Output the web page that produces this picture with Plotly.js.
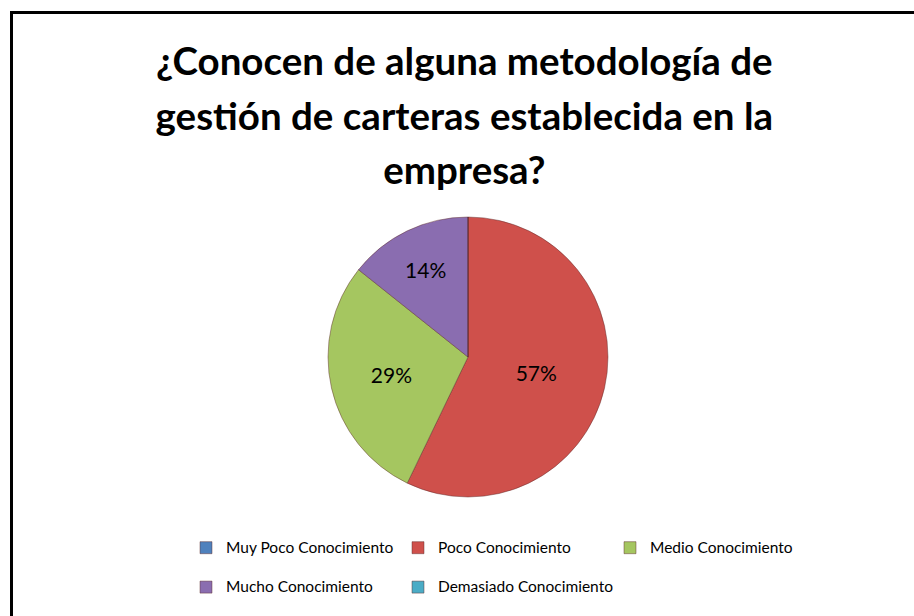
<!DOCTYPE html>
<html>
<head>
<meta charset="utf-8">
<script src="https://cdn.plot.ly/plotly-3.0.1.min.js"></script>
<style>
  html, body { margin: 0; padding: 0; background: #ffffff; }
  #chart { width: 914px; height: 616px; }
</style>
</head>
<body>
<div id="chart"></div>
<script>
const titleLines = ["¿Conocen de alguna metodología de", "gestión de carteras establecida en la", "empresa?"];
const categories = ["Muy Poco Conocimiento", "Poco Conocimiento", "Medio Conocimiento", "Mucho Conocimiento", "Demasiado Conocimiento"];
const counts = [0, 4, 2, 1, 0];
const sliceColors = ["#4F81BD", "#CF504B", "#A5C660", "#8A6DB0", "#4BACC6"];

const FONT = "Lato, 'Open Sans', sans-serif";

// small visible glyphs inside a larger base font (the base size sets the line spacing)
const legendLabels = categories.map(c => '<span style="font-size:15.5px;baseline-shift:6px">' + c + '</span>');
const titleText = titleLines.map(t => '<span style="font-size:38.5px">' + t + '</span>').join("<br>");

const W = 914, H = 616;
const M = { l: 100, r: 100, t: 0, b: 110 };
const PW = W - M.l - M.r, PH = H - M.t - M.b;

const trace = {
  type: "pie",
  labels: legendLabels,
  values: counts,
  sort: false,
  direction: "clockwise",
  rotation: 0,
  marker: { colors: sliceColors, line: { color: "rgba(90,40,40,0.45)", width: 1 } },
  texttemplate: "%{percent:.0%}",
  textposition: "inside",
  insidetextorientation: "horizontal",
  textfont: { family: FONT, size: 21, color: "#000000" },
  hoverinfo: "percent",
  domain: { x: [(328 - M.l) / PW, (608 - M.l) / PW], y: [(PH - 497) / PH, (PH - 217) / PH] }
};

const layout = {
  width: W,
  height: H,
  margin: M,
  paper_bgcolor: "#ffffff",
  font: { family: FONT, color: "#000000" },
  title: {
    text: titleText,
    font: { family: FONT, size: 42, color: "#000000", weight: "bold" },
    x: 0.508, xanchor: "center",
    y: 0.878, yanchor: "top", yref: "container"
  },
  showlegend: true,
  legend: {
    orientation: "h",
    x: (186 - M.l) / PW, xanchor: "left",
    y: (PH - 523) / PH, yanchor: "top",
    entrywidth: 167, entrywidthmode: "pixels",
    font: { family: FONT, size: 28, color: "#000000" },
    bgcolor: "rgba(0,0,0,0)"
  },
  shapes: [{
    type: "rect", xref: "paper", yref: "paper",
    x0: (11.5 - M.l) / PW, x1: 1.3, y0: -0.4, y1: (PH - 12.5) / PH,
    line: { color: "#000000", width: 3 }, fillcolor: "rgba(0,0,0,0)"
  }]
};

Plotly.newPlot("chart", [trace], layout, { displayModeBar: false, staticPlot: true });
</script>
</body>
</html>
